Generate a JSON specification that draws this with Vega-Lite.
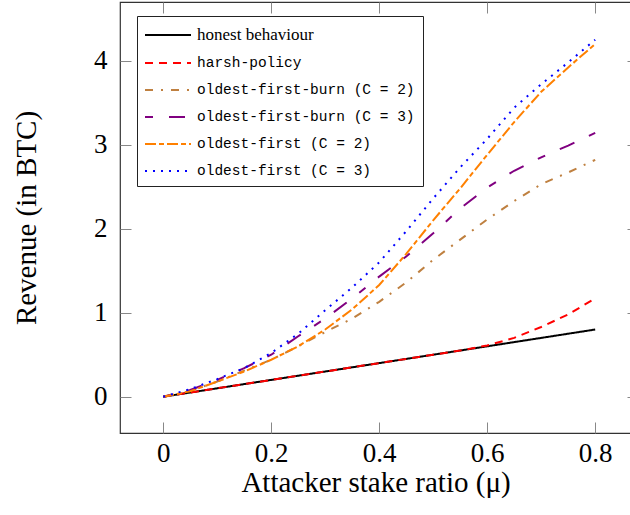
{
  "$schema": "https://vega.github.io/schema/vega-lite/v6.json",
  "width": 511,
  "height": 431,
  "autosize": "none",
  "padding": {"left": 120, "top": 2, "right": 0, "bottom": 82},
  "config": {
    "view": {"stroke": "#333", "strokeWidth": 1.2},
    "font": "Liberation Serif",
    "axis": {
      "labelFont": "Liberation Serif",
      "labelFontSize": 27,
      "labelColor": "#000",
      "titleFont": "Liberation Serif",
      "titleFontSize": 29,
      "titleFontWeight": "normal",
      "titleColor": "#000",
      "tickColor": "#888",
      "tickWidth": 1,
      "domain": false,
      "grid": false
    }
  },
  "data": {
    "values": [
      {"series": "honest behaviour", "mu": 0, "rev": 0},
      {"series": "honest behaviour", "mu": 0.05, "rev": 0.05},
      {"series": "honest behaviour", "mu": 0.1, "rev": 0.1},
      {"series": "honest behaviour", "mu": 0.15, "rev": 0.15},
      {"series": "honest behaviour", "mu": 0.2, "rev": 0.2},
      {"series": "honest behaviour", "mu": 0.25, "rev": 0.25},
      {"series": "honest behaviour", "mu": 0.3, "rev": 0.3},
      {"series": "honest behaviour", "mu": 0.35, "rev": 0.35},
      {"series": "honest behaviour", "mu": 0.4, "rev": 0.4},
      {"series": "honest behaviour", "mu": 0.45, "rev": 0.45},
      {"series": "honest behaviour", "mu": 0.5, "rev": 0.5},
      {"series": "honest behaviour", "mu": 0.55, "rev": 0.55},
      {"series": "honest behaviour", "mu": 0.6, "rev": 0.6},
      {"series": "honest behaviour", "mu": 0.65, "rev": 0.65},
      {"series": "honest behaviour", "mu": 0.7, "rev": 0.7},
      {"series": "honest behaviour", "mu": 0.75, "rev": 0.75},
      {"series": "honest behaviour", "mu": 0.8, "rev": 0.8},
      {"series": "harsh-policy", "mu": 0, "rev": 0},
      {"series": "harsh-policy", "mu": 0.05, "rev": 0.05},
      {"series": "harsh-policy", "mu": 0.1, "rev": 0.1},
      {"series": "harsh-policy", "mu": 0.15, "rev": 0.15},
      {"series": "harsh-policy", "mu": 0.2, "rev": 0.2},
      {"series": "harsh-policy", "mu": 0.25, "rev": 0.25},
      {"series": "harsh-policy", "mu": 0.3, "rev": 0.3},
      {"series": "harsh-policy", "mu": 0.35, "rev": 0.35},
      {"series": "harsh-policy", "mu": 0.4, "rev": 0.4},
      {"series": "harsh-policy", "mu": 0.45, "rev": 0.45},
      {"series": "harsh-policy", "mu": 0.5, "rev": 0.5},
      {"series": "harsh-policy", "mu": 0.55, "rev": 0.55},
      {"series": "harsh-policy", "mu": 0.6, "rev": 0.61},
      {"series": "harsh-policy", "mu": 0.65, "rev": 0.7},
      {"series": "harsh-policy", "mu": 0.7, "rev": 0.83},
      {"series": "harsh-policy", "mu": 0.75, "rev": 0.98},
      {"series": "harsh-policy", "mu": 0.8, "rev": 1.17},
      {"series": "oldest-first-burn (C = 2)", "mu": 0, "rev": 0},
      {"series": "oldest-first-burn (C = 2)", "mu": 0.05, "rev": 0.07},
      {"series": "oldest-first-burn (C = 2)", "mu": 0.1, "rev": 0.18},
      {"series": "oldest-first-burn (C = 2)", "mu": 0.15, "rev": 0.31},
      {"series": "oldest-first-burn (C = 2)", "mu": 0.2, "rev": 0.44},
      {"series": "oldest-first-burn (C = 2)", "mu": 0.25, "rev": 0.6},
      {"series": "oldest-first-burn (C = 2)", "mu": 0.3, "rev": 0.77},
      {"series": "oldest-first-burn (C = 2)", "mu": 0.35, "rev": 0.93},
      {"series": "oldest-first-burn (C = 2)", "mu": 0.4, "rev": 1.13},
      {"series": "oldest-first-burn (C = 2)", "mu": 0.45, "rev": 1.36},
      {"series": "oldest-first-burn (C = 2)", "mu": 0.5, "rev": 1.63},
      {"series": "oldest-first-burn (C = 2)", "mu": 0.55, "rev": 1.87},
      {"series": "oldest-first-burn (C = 2)", "mu": 0.6, "rev": 2.11},
      {"series": "oldest-first-burn (C = 2)", "mu": 0.65, "rev": 2.33},
      {"series": "oldest-first-burn (C = 2)", "mu": 0.7, "rev": 2.53},
      {"series": "oldest-first-burn (C = 2)", "mu": 0.75, "rev": 2.67},
      {"series": "oldest-first-burn (C = 2)", "mu": 0.8, "rev": 2.82},
      {"series": "oldest-first-burn (C = 3)", "mu": 0, "rev": 0},
      {"series": "oldest-first-burn (C = 3)", "mu": 0.05, "rev": 0.08},
      {"series": "oldest-first-burn (C = 3)", "mu": 0.1, "rev": 0.2},
      {"series": "oldest-first-burn (C = 3)", "mu": 0.15, "rev": 0.34},
      {"series": "oldest-first-burn (C = 3)", "mu": 0.2, "rev": 0.5},
      {"series": "oldest-first-burn (C = 3)", "mu": 0.25, "rev": 0.72},
      {"series": "oldest-first-burn (C = 3)", "mu": 0.3, "rev": 0.93},
      {"series": "oldest-first-burn (C = 3)", "mu": 0.35, "rev": 1.17},
      {"series": "oldest-first-burn (C = 3)", "mu": 0.4, "rev": 1.43},
      {"series": "oldest-first-burn (C = 3)", "mu": 0.45, "rev": 1.67},
      {"series": "oldest-first-burn (C = 3)", "mu": 0.5, "rev": 1.945},
      {"series": "oldest-first-burn (C = 3)", "mu": 0.55, "rev": 2.24},
      {"series": "oldest-first-burn (C = 3)", "mu": 0.6, "rev": 2.49},
      {"series": "oldest-first-burn (C = 3)", "mu": 0.65, "rev": 2.69},
      {"series": "oldest-first-burn (C = 3)", "mu": 0.7, "rev": 2.85},
      {"series": "oldest-first-burn (C = 3)", "mu": 0.75, "rev": 2.99},
      {"series": "oldest-first-burn (C = 3)", "mu": 0.8, "rev": 3.14},
      {"series": "oldest-first (C = 2)", "mu": 0, "rev": 0},
      {"series": "oldest-first (C = 2)", "mu": 0.05, "rev": 0.065},
      {"series": "oldest-first (C = 2)", "mu": 0.1, "rev": 0.18},
      {"series": "oldest-first (C = 2)", "mu": 0.15, "rev": 0.3},
      {"series": "oldest-first (C = 2)", "mu": 0.2, "rev": 0.44},
      {"series": "oldest-first (C = 2)", "mu": 0.25, "rev": 0.6},
      {"series": "oldest-first (C = 2)", "mu": 0.3, "rev": 0.8},
      {"series": "oldest-first (C = 2)", "mu": 0.35, "rev": 1.04},
      {"series": "oldest-first (C = 2)", "mu": 0.4, "rev": 1.33},
      {"series": "oldest-first (C = 2)", "mu": 0.45, "rev": 1.7},
      {"series": "oldest-first (C = 2)", "mu": 0.5, "rev": 2.1},
      {"series": "oldest-first (C = 2)", "mu": 0.55, "rev": 2.48},
      {"series": "oldest-first (C = 2)", "mu": 0.6, "rev": 2.88},
      {"series": "oldest-first (C = 2)", "mu": 0.65, "rev": 3.27},
      {"series": "oldest-first (C = 2)", "mu": 0.7, "rev": 3.63},
      {"series": "oldest-first (C = 2)", "mu": 0.75, "rev": 3.92},
      {"series": "oldest-first (C = 2)", "mu": 0.8, "rev": 4.2},
      {"series": "oldest-first (C = 3)", "mu": 0, "rev": 0},
      {"series": "oldest-first (C = 3)", "mu": 0.05, "rev": 0.09},
      {"series": "oldest-first (C = 3)", "mu": 0.1, "rev": 0.21},
      {"series": "oldest-first (C = 3)", "mu": 0.15, "rev": 0.34},
      {"series": "oldest-first (C = 3)", "mu": 0.2, "rev": 0.52},
      {"series": "oldest-first (C = 3)", "mu": 0.25, "rev": 0.75},
      {"series": "oldest-first (C = 3)", "mu": 0.3, "rev": 1.03},
      {"series": "oldest-first (C = 3)", "mu": 0.35, "rev": 1.3},
      {"series": "oldest-first (C = 3)", "mu": 0.4, "rev": 1.6},
      {"series": "oldest-first (C = 3)", "mu": 0.45, "rev": 1.97},
      {"series": "oldest-first (C = 3)", "mu": 0.5, "rev": 2.36},
      {"series": "oldest-first (C = 3)", "mu": 0.55, "rev": 2.73},
      {"series": "oldest-first (C = 3)", "mu": 0.6, "rev": 3.07},
      {"series": "oldest-first (C = 3)", "mu": 0.65, "rev": 3.44},
      {"series": "oldest-first (C = 3)", "mu": 0.7, "rev": 3.72},
      {"series": "oldest-first (C = 3)", "mu": 0.75, "rev": 3.98},
      {"series": "oldest-first (C = 3)", "mu": 0.8, "rev": 4.25}
    ]
  },
  "resolve": {"axis": {"x": "independent", "y": "independent"}},
  "layer": [
    {
      "mark": {"type": "line", "strokeWidth": 2, "clip": true},
      "encoding": {
        "x": {
          "field": "mu", "type": "quantitative",
          "scale": {"domain": [-0.08, 0.8663], "nice": false, "zero": false},
          "axis": {"orient": "bottom", "values": [0, 0.2, 0.4, 0.6, 0.8], "format": "~g", "tickSize": -11, "labelPadding": 18, "title": "Attacker stake ratio (μ)", "titlePadding": 2}
        },
        "y": {
          "field": "rev", "type": "quantitative",
          "scale": {"domain": [-0.432, 4.699], "nice": false, "zero": false},
          "axis": {"orient": "left", "values": [0, 1, 2, 3, 4], "format": "d", "tickSize": -11, "labelPadding": 24, "title": "Revenue (in BTC)", "titlePadding": 52}
        },
        "color": {
          "field": "series", "type": "nominal",
          "scale": {
            "domain": ["honest behaviour", "harsh-policy", "oldest-first-burn (C = 2)", "oldest-first-burn (C = 3)", "oldest-first (C = 2)", "oldest-first (C = 3)"],
            "range": ["#000000", "#ff0000", "#bf8040", "#800080", "#ff8000", "#0000ff"]
          },
          "legend": {
            "orient": "none", "legendX": 17, "legendY": 14, "title": null,
            "symbolType": "M-1.1,0H3.5", "symbolSize": 400, "symbolStrokeWidth": 2,
            "labelFont": "Liberation Mono", "labelFontSize": 14.5, "labelColor": "#000", "labelLimit": 400, "labelOffset": 30,
            "padding": 8, "rowPadding": 9,
            "strokeColor": "#222", "fillColor": "white", "cornerRadius": 0,
            "encode": {"labels": {"update": {"font": {"signal": "datum.label === 'honest behaviour' ? 'Liberation Serif' : 'Liberation Mono'"}, "fontSize": {"signal": "datum.label === 'honest behaviour' ? 17 : 14.5"}}}}
          }
        },
        "strokeDash": {
          "field": "series", "type": "nominal",
          "scale": {
            "domain": ["honest behaviour", "harsh-policy", "oldest-first-burn (C = 2)", "oldest-first-burn (C = 3)", "oldest-first (C = 2)", "oldest-first (C = 3)"],
            "range": [[1, 0], [8, 6], [8, 8, 2, 8], [8, 16, 16, 16], [11, 3, 5, 3], [2, 6]]
          }
        }
      }
    },
    {
      "mark": {"type": "point", "opacity": 0},
      "encoding": {
        "x": {"field": "mu", "type": "quantitative", "axis": {"orient": "top", "values": [0, 0.2, 0.4, 0.6, 0.8], "labels": false, "title": null, "tickSize": -11}},
        "y": {"field": "rev", "type": "quantitative", "axis": {"orient": "right", "values": [0, 1, 2, 3, 4], "labels": false, "title": null, "tickSize": -4}}
      }
    }
  ]
}
